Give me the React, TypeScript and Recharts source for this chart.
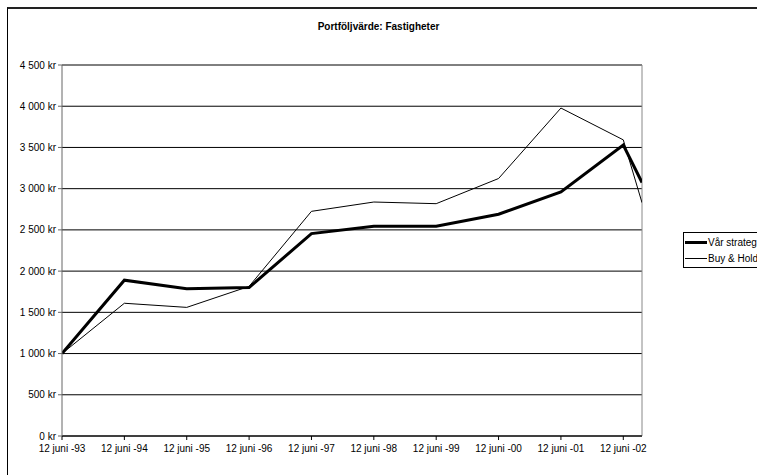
import { CartesianGrid, Line, LineChart, ReferenceLine, XAxis, YAxis } from "recharts";

// Portfolio value, property fund: own strategy vs. buy & hold
const dateLabels = [
  "12 juni -93",
  "12 juni -94",
  "12 juni -95",
  "12 juni -96",
  "12 juni -97",
  "12 juni -98",
  "12 juni -99",
  "12 juni -00",
  "12 juni -01",
  "12 juni -02",
];
// years since first valuation (last sample is autumn -02)
const sampleYears = [0, 1, 2, 3, 4, 5, 6, 7, 8, 9, 9.3];
const varStrategi = [1000, 1890, 1785, 1800, 2455, 2545, 2545, 2690, 2960, 3530, 3075];
const buyAndHold = [1000, 1610, 1560, 1815, 2725, 2838, 2818, 3123, 3978, 3592, 2830];
const yTicks = [0, 500, 1000, 1500, 2000, 2500, 3000, 3500, 4000, 4500];

const FONT = "Arial, 'Liberation Sans', sans-serif";
const LAST = sampleYears[sampleYears.length - 1];

const data = sampleYears.map((t, i) => ({
  t,
  var: varStrategi[i],
  bh: buyAndHold[i],
}));

const kr = (v: number) => `${v.toLocaleString("sv-SE").replace(/\s/g, " ")} kr`;

function LegendBox() {
  const row = (w: number, label: string) => (
    <div style={{ display: "flex", alignItems: "center", height: 16 }}>
      <div style={{ width: 22, height: w, background: "#000", marginRight: 1 }} />
      <span style={{ whiteSpace: "nowrap" }}>{label}</span>
    </div>
  );
  return (
    <div
      style={{
        position: "absolute",
        left: 683,
        top: 232,
        width: 100,
        border: "1px solid #000",
        padding: "1px 0 1px 1px",
        fontFamily: FONT,
        fontSize: 10,
        color: "#000",
        background: "#fff",
      }}
    >
      {row(3, "Vår strategi")}
      {row(1, "Buy & Hold")}
    </div>
  );
}

export default function App() {
  return (
    <div
      style={{
        position: "fixed",
        left: 0,
        top: 0,
        width: 757,
        height: 475,
        overflow: "hidden",
        background: "#fff",
      }}
    >
      <div
        style={{
          position: "absolute",
          left: 7,
          top: 7,
          width: 800,
          height: 520,
          borderLeft: "1px solid #000",
          borderTop: "2px solid #222",
        }}
      />
      <div
        style={{
          position: "absolute",
          left: 0,
          top: 21,
          width: 757,
          textAlign: "center",
          fontFamily: FONT,
          fontWeight: "bold",
          fontSize: 10,
        }}
      >
        Portföljvärde: Fastigheter
      </div>
      <div style={{ position: "absolute", left: 0, top: 0 }}>
        <LineChart
          width={757}
          height={475}
          data={data}
          margin={{ top: 65, right: 115, bottom: 9, left: 0 }}
        >
          <CartesianGrid horizontal vertical={false} stroke="#000" strokeOpacity={1} />
          <XAxis
            type="number"
            dataKey="t"
            domain={[0, LAST]}
            ticks={dateLabels.map((_, i) => sampleYears[i])}
            tickFormatter={(v: number) => dateLabels[sampleYears.indexOf(v)] ?? ""}
            tick={{ fontSize: 10, fill: "#000", fontFamily: FONT }}
            stroke="#000"
            tickSize={4}
            tickMargin={5}
            height={30}
            interval={0}
            allowDataOverflow
          />
          <YAxis
            domain={[0, 4500]}
            ticks={yTicks}
            tickFormatter={kr}
            tick={{ fontSize: 10, fill: "#000", fontFamily: FONT }}
            stroke="#666"
            tickSize={4}
            width={62}
            interval={0}
          />
          <ReferenceLine x={LAST} stroke="#888" />
          <Line
            type="linear"
            dataKey="var"
            name="Vår strategi"
            stroke="#000"
            strokeWidth={3}
            dot={false}
            isAnimationActive={false}
          />
          <Line
            type="linear"
            dataKey="bh"
            name="Buy & Hold"
            stroke="#000"
            strokeWidth={1}
            dot={false}
            isAnimationActive={false}
          />
        </LineChart>
      </div>
      <LegendBox />
    </div>
  );
}
